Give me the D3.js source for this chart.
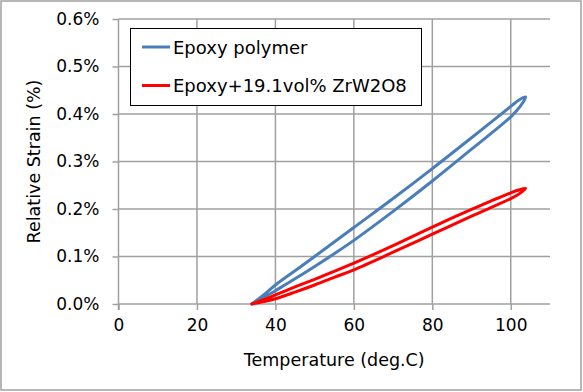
<!DOCTYPE html>
<html>
<head>
<meta charset="utf-8">
<script src="https://cdn.jsdelivr.net/npm/d3@7"></script>
<style>
  html, body { margin: 0; padding: 0; background: #fff; }
  svg { display: block; }
  text { font-family: "DejaVu Sans", Verdana, sans-serif; fill: #000; }
</style>
</head>
<body>
<svg id="chart" width="583" height="392"></svg>
<script>
// ---- data ----
const xTicks = [0, 20, 40, 60, 80, 100];
const yTicks = [0, 0.001, 0.002, 0.003, 0.004, 0.005, 0.006];
const yTickLabels = ["0.0%", "0.1%", "0.2%", "0.3%", "0.4%", "0.5%", "0.6%"];
const seriesNames = ["Epoxy polymer", "Epoxy+19.1vol% ZrW2O8"];
const seriesColors = ["#4A7EBB", "#FF0000"];

// Epoxy polymer: heating branch (lower) then cooling branch (upper); strain in fraction
const epoxyHeatT = [34.0, 37, 40, 45, 50, 55, 60, 70, 80, 90, 100, 102.5, 103.8];
const epoxyHeatS = [0.00000, 0.00013, 0.00028, 0.00053, 0.00079, 0.00106, 0.00134, 0.00195, 0.00259, 0.00326, 0.00394, 0.00417, 0.00436];
const epoxyCoolT = [102, 100, 90, 80, 70, 60, 50, 45, 40, 37, 34.0];
const epoxyCoolS = [0.00429, 0.00416, 0.00350, 0.00285, 0.00222, 0.00161, 0.00100, 0.00070, 0.00040, 0.00019, 0.00000];

// Epoxy + 19.1vol% ZrW2O8
const compHeatT = [34.0, 37, 40, 45, 50, 55, 60, 70, 80, 90, 100, 102.5, 103.8];
const compHeatS = [0.00000, 0.00005, 0.00011, 0.00025, 0.00040, 0.00056, 0.00072, 0.00109, 0.00147, 0.00185, 0.00222, 0.00234, 0.002435];
const compCoolT = [102, 100, 90, 80, 70, 60, 50, 45, 40, 37, 34.0];
const compCoolS = [0.00240, 0.00234, 0.00199, 0.00162, 0.00123, 0.00086, 0.00052, 0.00036, 0.00019, 0.00009, 0.00000];

// ---- layout ----
const svg = d3.select("#chart");
const x = d3.scaleLinear().domain([0, 110]).range([118.5, 550]);
const y = d3.scaleLinear().domain([0, 0.006]).range([304, 19]);
const gridColor = "#a0a0a0";

// outer border
svg.append("rect").attr("x", 1).attr("y", 1).attr("width", 580).attr("height", 389)
  .attr("fill", "#fff").attr("stroke", gridColor).attr("stroke-width", 1.5);

// gridlines
const grid = svg.append("g");
grid.selectAll("line.h").data(yTicks.slice(1)).enter().append("line")
  .attr("x1", x(0)).attr("x2", x(110))
  .attr("y1", d => y(d)).attr("y2", d => y(d))
  .attr("stroke", gridColor).attr("stroke-width", 1.5);
grid.selectAll("line.v").data(xTicks.slice(1)).enter().append("line")
  .attr("y1", y(0)).attr("y2", y(0.006))
  .attr("x1", d => x(d)).attr("x2", d => x(d))
  .attr("stroke", gridColor).attr("stroke-width", 1.5);

// axes
const xAxis = svg.append("g").attr("transform", `translate(0,${y(0)})`)
  .call(d3.axisBottom(x).tickValues(xTicks).tickSize(6).tickSizeOuter(0).tickPadding(9));
const yAxis = svg.append("g").attr("transform", `translate(${x(0)},0)`)
  .call(d3.axisLeft(y).tickValues(yTicks).tickFormat((d, i) => yTickLabels[i]).tickSize(6).tickSizeOuter(0).tickPadding(13));
[xAxis, yAxis].forEach(a => {
  a.select(".domain").attr("stroke", gridColor).attr("stroke-width", 1.5);
  a.selectAll(".tick line").attr("stroke", gridColor).attr("stroke-width", 1.5);
  a.selectAll("text").attr("font-size", 17).attr("fill", "#000")
    .attr("font-family", '"DejaVu Sans", Verdana, sans-serif');
});
xAxis.select(".domain").attr("d", `M${x(0)},0H${x(110)}`);
yAxis.select(".domain").attr("d", `M0,${y(0) + 6}V${y(0.006)}`);

// axis titles
svg.append("text").attr("x", (x(0) + x(110)) / 2).attr("y", 366)
  .attr("text-anchor", "middle").attr("font-size", 17.5).text("Temperature (deg.C)");
svg.append("text").attr("transform", `translate(40,${(y(0) + y(0.006)) / 2}) rotate(-90)`)
  .attr("text-anchor", "middle").attr("font-size", 17.5).text("Relative Strain (%)");

// curves
const line = d3.line().x(d => x(d[0])).y(d => y(d[1])).curve(d3.curveCatmullRom.alpha(0.5));
const loops = [
  d3.zip(epoxyHeatT.concat(epoxyCoolT), epoxyHeatS.concat(epoxyCoolS)),
  d3.zip(compHeatT.concat(compCoolT), compHeatS.concat(compCoolS))
];
loops.forEach((pts, i) => {
  svg.append("path").attr("d", line(pts)).attr("fill", "none")
    .attr("stroke", seriesColors[i]).attr("stroke-width", 3)
    .attr("stroke-linejoin", "round").attr("stroke-linecap", "round");
});

// legend
const lg = svg.append("g");
lg.append("rect").attr("x", 130.5).attr("y", 28.5).attr("width", 291).attr("height", 77)
  .attr("fill", "#fff").attr("stroke", "#000").attr("stroke-width", 1);
seriesNames.forEach((name, i) => {
  const cy = 47 + i * 38.5;
  lg.append("line").attr("x1", 142).attr("x2", 170).attr("y1", cy).attr("y2", cy)
    .attr("stroke", seriesColors[i]).attr("stroke-width", 3);
  lg.append("text").attr("x", 173).attr("y", cy + 6.5).attr("font-size", 18).text(name);
});
</script>
</body>
</html>
